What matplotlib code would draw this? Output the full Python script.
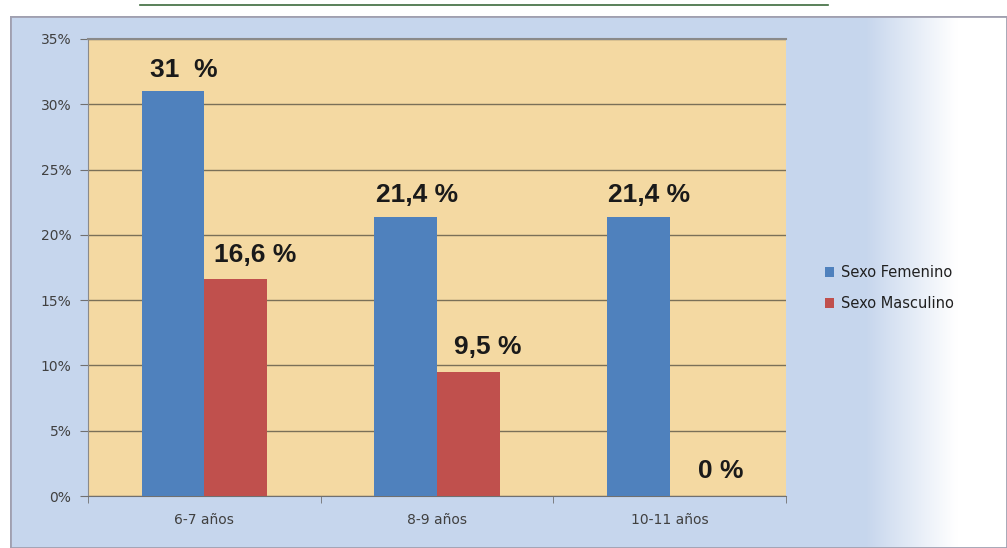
import matplotlib.pyplot as plt
import numpy as np
from matplotlib.lines import Line2D
from matplotlib.patches import Rectangle

categories = ["6-7 años", "8-9 años", "10-11 años"]
femenino = [31.0, 21.4, 21.4]
masculino = [16.6, 9.5, 0.0]
labels_fem = ["31  %", "21,4 %", "21,4 %"]
labels_mas = ["16,6 %", "9,5 %", "0 %"]
yticks = [0, 5, 10, 15, 20, 25, 30, 35]


def plot():
    fig = plt.figure(figsize=(10.07, 5.48), dpi=100)
    fig.patch.set_facecolor("white")

    # chart area background: light blue fading to white on the right
    bg = fig.add_axes([10 / 1007, 0, 1 - 10 / 1007, (548 - 16) / 548], zorder=0)
    xs = np.linspace(0, 1, 400)
    blue = np.array([0.78, 0.84, 0.93])
    white = np.array([1.0, 1.0, 1.0])
    t = np.clip((xs - 0.86) / 0.09, 0, 1)
    row = blue[None, :] * (1 - t[:, None]) + white[None, :] * t[:, None]
    bg.imshow(row[None, :, :], aspect="auto", extent=[0, 1, 0, 1])
    bg.set_xlim(0, 1)
    bg.set_ylim(0, 1)
    bg.axis("off")
    bg.add_patch(Rectangle((0, 0), 1, 1, fill=False, edgecolor="#a0a0b0",
                           linewidth=2, transform=bg.transAxes))

    fig.add_artist(Line2D([140 / 1007, 828 / 1007], [1 - 5 / 548, 1 - 5 / 548],
                          color="#3d6b3d", linewidth=1.2))

    ax = fig.add_axes([88 / 1007, 52 / 548, 698 / 1007, 457 / 548], zorder=1)
    ax.set_facecolor("#f4d9a2")

    x = np.arange(len(categories))
    w = 0.27
    b1 = ax.bar(x - w / 2, femenino, w, color="#4f81bd", label="Sexo Femenino", zorder=3)
    b2 = ax.bar(x + w / 2, masculino, w, color="#c0504d", label="Sexo Masculino", zorder=3)

    for rect, lab in zip(b1, labels_fem):
        ax.annotate(lab, (rect.get_x() + rect.get_width() / 2, rect.get_height()),
                    xytext=(8, 7), textcoords="offset points", ha="center", va="bottom",
                    fontsize=19, fontweight="bold", color="#1a1a1a",
                    family="Liberation Sans", zorder=4)
    for rect, lab in zip(b2, labels_mas):
        ax.annotate(lab, (rect.get_x() + rect.get_width() / 2, rect.get_height()),
                    xytext=(14, 9), textcoords="offset points", ha="center", va="bottom",
                    fontsize=19, fontweight="bold", color="#1a1a1a",
                    family="Liberation Sans", zorder=4)

    ax.set_xlim(-0.5, len(categories) - 0.5)
    ax.set_ylim(0, 35)
    ax.set_yticks(yticks)
    ax.set_yticklabels([f"{v}%" for v in yticks], fontsize=10, color="#404040")
    ax.set_xticks(x)
    ax.set_xticklabels(categories, fontsize=10, color="#404040")
    ax.tick_params(axis="x", length=0, pad=12)
    ax.set_xticks(np.arange(len(categories) + 1) - 0.5, minor=True)
    ax.tick_params(axis="x", which="minor", length=5, color="#707070")
    ax.tick_params(axis="y", length=6, color="#707070", pad=6)
    ax.yaxis.grid(True, color="#7a7058", linewidth=1, zorder=1)
    ax.set_axisbelow(True)
    ax.spines["right"].set_visible(False)
    ax.spines["top"].set_color("#8a8a8a")
    ax.spines["top"].set_linewidth(1.5)
    ax.spines["left"].set_color("#8a8a8a")
    ax.spines["bottom"].set_color("#707070")

    fig.legend(handles=[b1, b2], loc="upper left", bbox_to_anchor=(812 / 1007, 1 - 252 / 548),
               frameon=False, fontsize=10.5, handlelength=0.6, handleheight=0.6,
               handletextpad=0.5, labelspacing=1.1, labelcolor="#202020")

    fig.savefig("out.png", dpi=100)


if __name__ == "__main__":
    plot()
